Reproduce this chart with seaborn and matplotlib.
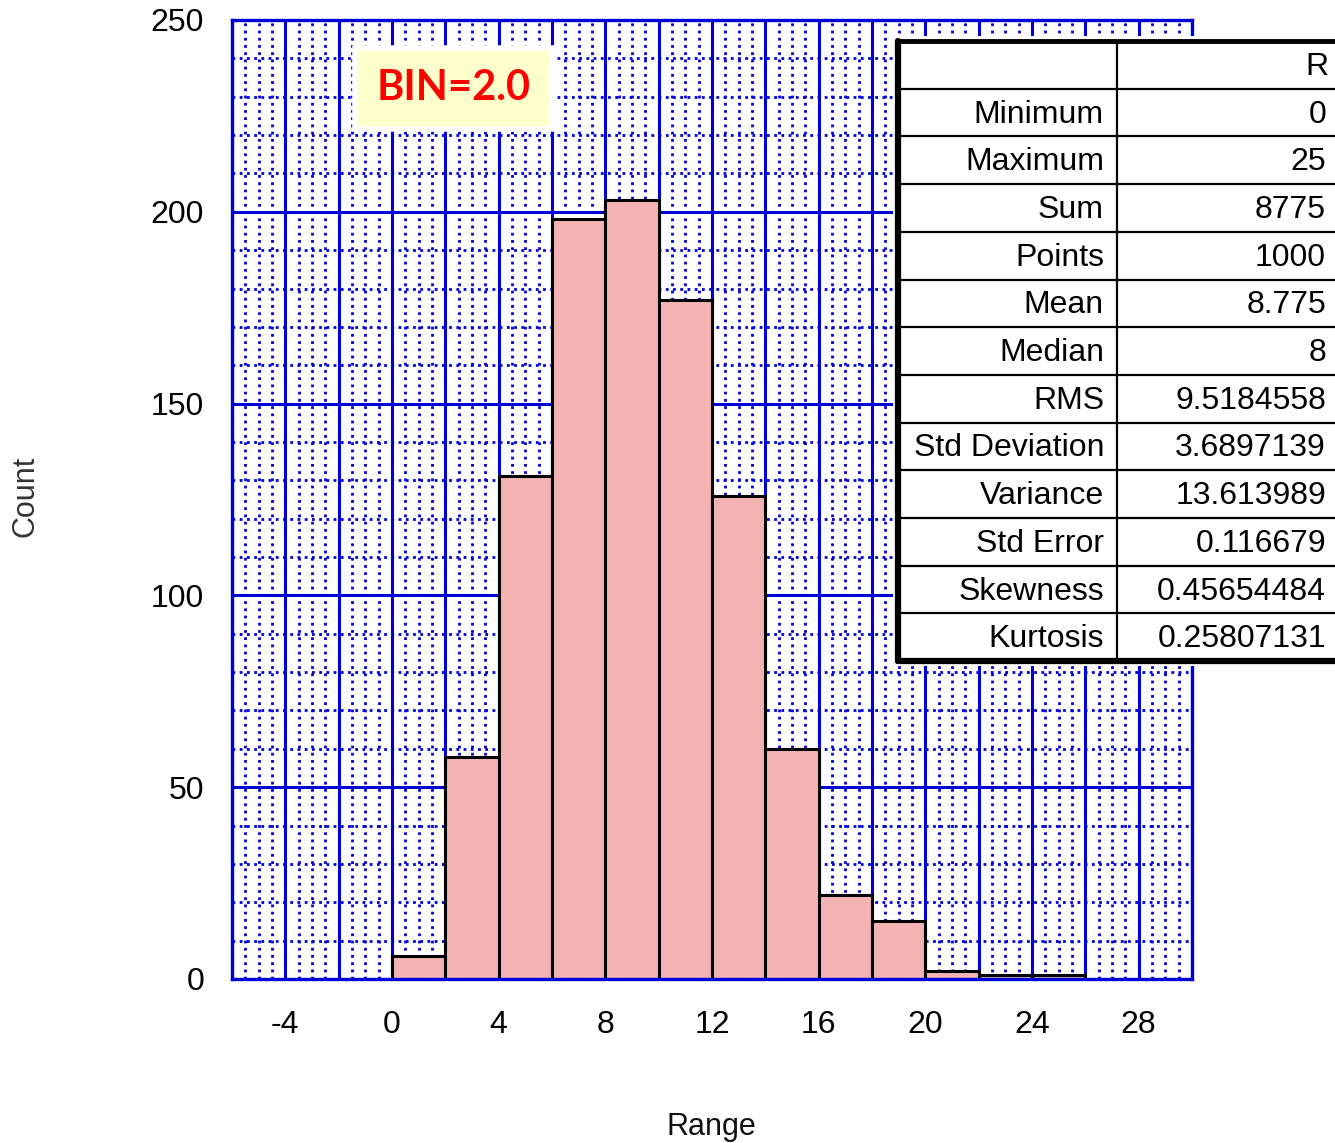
import numpy as np
import matplotlib
matplotlib.use("Agg")
import matplotlib.pyplot as plt
from matplotlib.ticker import MultipleLocator, FuncFormatter
from matplotlib.patches import Rectangle
import seaborn as sns

# histogram data (bin width 2)
bin_edges = [0, 2, 4, 6, 8, 10, 12, 14, 16, 18, 20, 22, 24, 26]
bin_centers = [1, 3, 5, 7, 9, 11, 13, 15, 17, 19, 21, 23, 25]
counts = [6, 58, 131, 198, 203, 177, 126, 60, 22, 15, 2, 1, 1]

# statistics table
stat_names = ["Minimum", "Maximum", "Sum", "Points", "Mean", "Median", "RMS",
              "Std Deviation", "Variance", "Std Error", "Skewness", "Kurtosis"]
stat_values = ["0", "25", "8775", "1000", "8.775", "8", "9.5184558",
               "3.6897139", "13.613989", "0.116679", "0.45654484", "0.25807131"]
column_header = "R"
bin_label = "BIN=2.0"

sns.set_style("white")
plt.rcParams['font.family'] = ['Liberation Sans', 'DejaVu Sans']
plt.rcParams['text.color'] = 'black'
plt.rcParams['xtick.labelcolor'] = 'black'
plt.rcParams['ytick.labelcolor'] = 'black'

W, H = 1335, 1143
fig = plt.figure(figsize=(W / 100, H / 100), dpi=100)
ax = fig.add_axes([232 / W, 1 - 979 / H, 960 / W, 959 / H])

blue = '#0000d8'
sns.histplot(x=bin_centers, weights=counts, bins=bin_edges, ax=ax,
             color='#f4b3b3', alpha=1, edgecolor='black', linewidth=2.2)

ax.set_xlim(-6, 30)
ax.set_ylim(0, 250)
ax.xaxis.set_major_locator(MultipleLocator(2))
ax.xaxis.set_minor_locator(MultipleLocator(0.5))
ax.yaxis.set_major_locator(MultipleLocator(50))
ax.yaxis.set_minor_locator(MultipleLocator(10))
ax.xaxis.set_major_formatter(FuncFormatter(lambda v, p: f"{v:.0f}" if round(v) % 4 == 0 else ""))

ax.set_axisbelow(True)
ax.grid(which='major', color=blue, linewidth=2.2, linestyle='-')
ax.grid(which='minor', color=blue, linewidth=2, linestyle=(0, (1, 1.6)))
for s in ax.spines.values():
    s.set_color(blue)
    s.set_linewidth(2.4)

ax.tick_params(axis='x', which='major', direction='in', length=8, width=2,
               color=blue, labelsize=23, pad=22, labelcolor='black')
ax.tick_params(axis='y', which='major', direction='in', length=0,
               labelsize=23, pad=20, labelcolor='black')
ax.tick_params(which='minor', length=0)

ax.set_xlabel("Range", fontsize=22, color='#111111')
ax.set_ylabel("Count", fontsize=22, color='#333333')
ax.xaxis.set_label_coords(0.499, -0.139)
ax.yaxis.set_label_coords(-0.199, 0.503)

# BIN annotation
ax.text(0.231, 0.9286, bin_label, transform=ax.transAxes, ha='center', va='center',
        fontsize=30, fontweight='bold', color='#ff0000', family=['Lato', 'DejaVu Sans'],
        bbox=dict(boxstyle='square,pad=0.52', facecolor='#ffffcc', edgecolor='white', linewidth=4))

# statistics table overlay in pixel coordinates
ov = fig.add_axes([0, 0, 1, 1], zorder=5)
ov.set_xlim(0, W)
ov.set_ylim(H, 0)
ov.axis('off')

x0, xm, x1 = 898, 1117, W + 20
y0, rh = 41, 47.7
nrows = len(stat_names) + 1
y1 = y0 + rh * nrows
ov.add_patch(Rectangle((x0 - 5, y0 - 5), x1 - x0 + 10, y1 - y0 + 10,
                       facecolor='white', edgecolor='none'))
for i in range(1, nrows):
    ov.plot([x0, x1], [y0 + i * rh, y0 + i * rh], color='black', lw=1.6)
ov.plot([xm, xm], [y0, y1], color='black', lw=1.6)
ov.plot([x0, x1], [y0, y0], color='black', lw=3.5)
ov.plot([x0, x0], [y0, y1], color='black', lw=4.5)
ov.plot([x0, x1], [y1, y1], color='black', lw=4.5)

ov.text(1328, y0 + rh / 2 + 2, column_header, ha='right', va='center', fontsize=23, color='black')
for i, (name, val) in enumerate(zip(stat_names, stat_values)):
    yc = y0 + (i + 1.5) * rh + 2
    ov.text(1104, yc, name, ha='right', va='center', fontsize=23, color='black')
    ov.text(1326, yc, val, ha='right', va='center', fontsize=23, color='black')

fig.savefig("out.png", dpi=100)
